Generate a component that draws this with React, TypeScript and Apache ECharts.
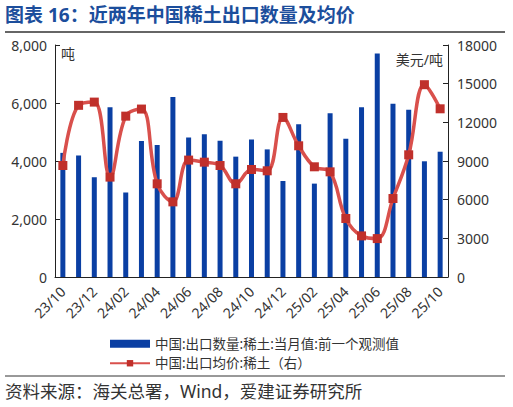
import React, { useEffect, useRef } from "react";
import * as echarts from "echarts";

const categories = [
  "23/10", "23/11", "23/12", "24/01", "24/02", "24/03", "24/04", "24/05", "24/06",
  "24/07", "24/08", "24/09", "24/10", "24/11", "24/12", "25/01", "25/02", "25/03",
  "25/04", "25/05", "25/06", "25/07", "25/08", "25/09", "25/10",
];

const exportVolume = [
  4280, 4190, 3440, 5850, 2910, 4690, 4550, 6210, 4810, 4920, 4700, 4150, 4740,
  4400, 3310, 5270, 3220, 5650, 4770, 5850, 7710, 5970, 5770, 3990, 4320,
];

const exportPrice = [
  8650, 13320, 13570, 7750, 12480, 13030, 7230, 5830, 9070, 8910, 8650, 7230, 8340,
  8240, 12380, 10180, 8550, 8160, 4540, 3190, 2980, 6090, 9480, 14920, 13050,
];

const leftTicks = { min: 0, max: 8000, interval: 2000 };
const rightTicks = { min: 0, max: 18000, interval: 3000 };

const volumeName = "中国:出口数量:稀土:当月值:前一个观测值";
const priceName = "中国:出口均价:稀土（右）";

const FONT = '"Noto Sans", "Noto Sans CJK SC", sans-serif';

export default function App() {
  const ref = useRef<HTMLDivElement>(null);
  useEffect(() => {
    if (!ref.current) return;
    const chart = echarts.init(ref.current, null, { renderer: "svg" });
    chart.setOption({
      animation: false,
      textStyle: { fontFamily: FONT },
      grid: { left: 55, right: 65, top: 45, bottom: 130 },
      legend: {
        orient: "vertical",
        left: 104,
        top: 332,
        itemWidth: 40,
        itemHeight: 8,
        itemGap: 6,
        textStyle: { fontSize: 13.5, color: "#333", fontFamily: FONT },
        data: [
          { name: volumeName, icon: "rect" },
          { name: priceName },
        ],
      },
      xAxis: {
        type: "category",
        data: categories,
        boundaryGap: true,
        axisLine: { lineStyle: { color: "#222", width: 1 } },
        axisTick: { inside: true, interval: 1, length: 4, lineStyle: { color: "#222" } },
        axisLabel: {
          interval: 1,
          rotate: 45,
          fontSize: 14,
          color: "#333",
          margin: 12,
          fontFamily: FONT,
        },
      },
      yAxis: [
        {
          type: "value",
          min: leftTicks.min,
          max: leftTicks.max,
          interval: leftTicks.interval,
          splitLine: { show: false },
          axisLine: { show: true, lineStyle: { color: "#222" } },
          axisTick: { show: true, inside: true, length: 5, lineStyle: { color: "#222" } },
          axisLabel: {
            fontSize: 14,
            color: "#333",
            margin: 8,
            fontFamily: FONT,
            formatter: (v: number) => v.toLocaleString("en-US"),
          },
        },
        {
          type: "value",
          min: rightTicks.min,
          max: rightTicks.max,
          interval: rightTicks.interval,
          position: "right",
          splitLine: { show: false },
          axisLine: { show: true, lineStyle: { color: "#222" } },
          axisTick: { show: true, inside: true, length: 5, lineStyle: { color: "#222" } },
          axisLabel: {
            fontSize: 14,
            color: "#333",
            margin: 9,
            fontFamily: FONT,
            formatter: (v: number) => String(v),
          },
        },
      ],
      series: [
        {
          name: volumeName,
          type: "bar",
          yAxisIndex: 0,
          data: exportVolume,
          barWidth: 5,
          itemStyle: { color: "#0a3fa3" },
        },
        {
          name: priceName,
          type: "line",
          yAxisIndex: 1,
          data: exportPrice,
          smooth: 0.4,
          symbol: "rect",
          symbolSize: 9,
          lineStyle: { color: "#d9504c", width: 3.5 },
          itemStyle: { color: "#c0302b" },
        },
      ],
      graphic: [
        {
          type: "text",
          left: 5,
          top: 5,
          style: {
            text: "图表 16：近两年中国稀土出口数量及均价",
            fontSize: 19,
            fontWeight: "bold",
            fill: "#1c4e9c",
            fontFamily: FONT,
          },
        },
        {
          type: "line",
          shape: { x1: 5, y1: 32, x2: 505, y2: 32 },
          style: { stroke: "#333", lineWidth: 1.5 },
        },
        {
          type: "text",
          left: 61,
          top: 46,
          style: { text: "吨", fontSize: 14, fill: "#333", fontFamily: FONT },
        },
        {
          type: "text",
          right: 70,
          top: 52,
          style: { text: "美元/吨", fontSize: 14, fill: "#333", fontFamily: FONT },
        },
        {
          type: "line",
          shape: { x1: 5, y1: 376, x2: 505, y2: 376 },
          style: { stroke: "#333", lineWidth: 1 },
        },
        {
          type: "text",
          left: 5,
          top: 382,
          style: {
            text: "资料来源：海关总署，Wind，爱建证券研究所",
            fontSize: 17.5,
            fill: "#333",
            fontFamily: FONT,
          },
        },
      ],
    });
    return () => chart.dispose();
  }, []);
  return (
    <div
      ref={ref}
      style={{ position: "absolute", left: 0, top: 0, width: 513, height: 407 }}
    />
  );
}
